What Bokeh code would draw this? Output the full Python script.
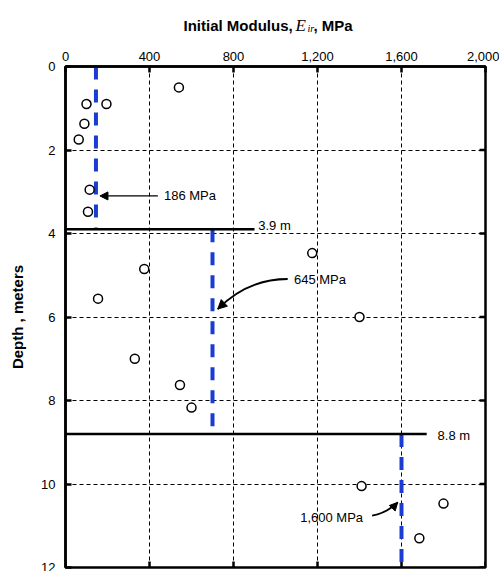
import math
from bokeh.plotting import figure
from bokeh.layouts import column
from bokeh.models import (Range1d, FixedTicker, NumeralTickFormatter,
                          Label, Arrow, NormalHead)
from bokeh.embed import file_html
from bokeh.resources import INLINE

# ---- data ----
modulus = [540, 100, 195, 90, 63, 115, 107, 1175, 375, 155, 1400, 330, 545, 600, 1410, 1800, 1685]
depth = [0.5, 0.9, 0.9, 1.37, 1.75, 2.95, 3.48, 4.47, 4.85, 5.56, 6.0, 7.0, 7.63, 8.17, 10.05, 10.47, 11.3]

layer_top = [0, 3.9, 8.8]
layer_bottom = [3.9, 8.8, 12]
layer_modulus = [145, 700, 1600]
layer_labels = ["186 MPa", "645 MPa", "1,600 MPa"]

boundary_depth = [3.9, 8.8]
boundary_extent = [900, 1720]
boundary_labels = ["3.9 m", "8.8 m"]

x_ticks = [0, 400, 800, 1200, 1600, 2000]
y_ticks = [0, 2, 4, 6, 8, 10, 12]
x_max = 2000
y_max = 12

FONT = "Liberation Sans"
BLUE = "#1a3cd2"

TITLE_H = 40
LEFT, RIGHT = 65, 14

# ---------- title strip (mixed fonts); its frame is aligned with the chart frame ----------
t = figure(width=499, height=TITLE_H, output_backend="svg", toolbar_location=None,
           x_range=Range1d(LEFT, 499 - RIGHT), y_range=Range1d(TITLE_H, 0),
           x_axis_type=None, y_axis_type=None,
           min_border_left=LEFT, min_border_right=RIGHT, min_border_top=0, min_border_bottom=0)
t.outline_line_color = None
t.grid.visible = False
t.background_fill_color = "white"
t.border_fill_color = "white"

def tlab(text, x, y, size, style, font):
    t.add_layout(Label(x=x, y=y, text=text, text_font=font, text_font_size=size,
                       text_font_style=style, text_align="left", text_baseline="alphabetic",
                       text_color="black"))

tlab("Initial Modulus,", 183, 25, "15px", "bold", FONT)
tlab("E", 295, 25, "17px", "italic", "Liberation Serif")
tlab("ir", 307, 28, "10px", "italic", "Liberation Serif")
tlab(", MPa", 313, 25, "15px", "bold", FONT)

# ---------- main chart ----------
p = figure(width=499, height=571 - TITLE_H, output_backend="svg", toolbar_location=None,
           x_range=Range1d(0, x_max), y_range=Range1d(y_max, 0),
           x_axis_location="above",
           min_border_left=LEFT, min_border_right=RIGHT, min_border_top=66 - TITLE_H,
           min_border_bottom=4)
p.background_fill_color = "white"
p.border_fill_color = "white"
p.outline_line_color = "black"
p.outline_line_width = 2.5

def style_axis(ax):
    ax.axis_line_width = 2.5
    ax.axis_line_color = "black"
    ax.major_tick_in = 6
    ax.major_tick_out = 0
    ax.major_tick_line_width = 2.5
    ax.major_tick_line_color = "black"
    ax.minor_tick_line_color = None
    ax.major_label_text_font = FONT
    ax.major_label_text_color = "black"
    ax.major_label_text_font_size = "13px"

xa = p.xaxis[0]
xa.ticker = FixedTicker(ticks=x_ticks)
xa.formatter = NumeralTickFormatter(format="0,0")
style_axis(xa)
xa.major_label_standoff = 6

ya = p.yaxis[0]
ya.ticker = FixedTicker(ticks=y_ticks)
style_axis(ya)
ya.major_label_standoff = 10
ya.axis_label = "Depth , meters"
ya.axis_label_text_font = FONT
ya.axis_label_text_font_style = "bold"
ya.axis_label_text_font_size = "15px"
ya.axis_label_text_color = "black"
ya.axis_label_standoff = 12

for g in (p.xgrid[0], p.ygrid[0]):
    g.grid_line_color = "black"
    g.grid_line_width = 1
    g.grid_line_dash = "4 3"
p.xgrid[0].ticker = FixedTicker(ticks=x_ticks)
p.ygrid[0].ticker = FixedTicker(ticks=y_ticks)

# inward ticks on the right and bottom frame edges (half of each dash is clipped by the frame)
p.scatter(x=[x_max] * len(y_ticks), y=y_ticks, marker="dash", size=12,
          line_color="black", line_width=2.5)
p.scatter(x=x_ticks, y=[y_max] * len(x_ticks), marker="dash", size=12, angle=math.pi / 2,
          line_color="black", line_width=2.5)

# layer average lines
p.segment(x0=layer_modulus, y0=layer_top, x1=layer_modulus, y1=layer_bottom,
          line_color=BLUE, line_width=4, line_dash="13 10")

# layer boundaries
p.segment(x0=[0] * len(boundary_depth), y0=boundary_depth, x1=boundary_extent, y1=boundary_depth,
          line_color="black", line_width=2.5)

# data points
p.scatter(modulus, depth, marker="circle", size=9, fill_color="white",
          line_color="black", line_width=1.5)

def lab(text, x, y, align="left"):
    p.add_layout(Label(x=x, y=y, text=text, text_font=FONT, text_font_size="13px",
                       text_align=align, text_baseline="middle", text_color="black"))

# boundary labels
lab(boundary_labels[0], 918, 3.82)
lab(boundary_labels[1], 1772, 8.85)

# annotations
lab(layer_labels[0], 469, 3.1)
p.add_layout(Arrow(end=NormalHead(size=8, fill_color="black", line_color="black"),
                   x_start=440, y_start=3.1, x_end=164, y_end=3.1, line_width=1.3))

lab(layer_labels[1], 1088, 5.11)
p.quadratic(x0=[1058], y0=[5.09], x1=[725], y1=[5.81], cx=[869], cy=[5.09],
            line_color="black", line_width=1.8)
p.add_layout(Arrow(end=NormalHead(size=9, fill_color="black", line_color="black"),
                   x_start=744, y_start=5.72, x_end=725, y_end=5.81, line_width=1.8))

lab(layer_labels[2], 1417, 10.81, align="right")
p.quadratic(x0=[1460], y0=[10.76], x1=[1582], y1=[10.44], cx=[1531], cy=[10.69],
            line_color="black", line_width=1.8)
p.add_layout(Arrow(end=NormalHead(size=8, fill_color="black", line_color="black"),
                   x_start=1569, y_start=10.51, x_end=1582, y_end=10.44, line_width=1.8))

layout = column(t, p, spacing=0)
open("out.html", "w").write(file_html(layout, INLINE))
